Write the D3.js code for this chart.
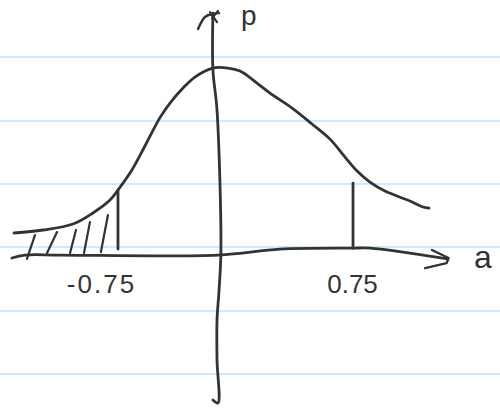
<!DOCTYPE html>
<html><head><meta charset="utf-8">
<script src="https://cdn.jsdelivr.net/npm/d3@7"></script>
<style>html,body{margin:0;padding:0;background:#fff}svg{display:block}</style></head>
<body><svg id="c" width="500" height="408"></svg>
<script>
const curveA=[-1.414,-1.229,-1.037,-0.91,-0.801,-0.75,-0.661,-0.578,-0.482,-0.418,-0.335,-0.259,-0.144,-0.048,0.029,0.137,0.22,0.361,0.488,0.603,0.699,0.776,0.858,0.954,1.114,1.197,1.235];
const curveP=[0.118,0.134,0.166,0.225,0.294,0.348,0.455,0.583,0.735,0.813,0.893,0.952,1,1,0.984,0.92,0.866,0.786,0.701,0.62,0.524,0.449,0.39,0.342,0.289,0.257,0.251];
const ruleP=[1.059,0.717,0.38,0.043,-0.299,-0.636];
const hatchA0=[-1.331,-1.203,-1.056,-0.967,-0.859];
const hatchP0=[-0.021,0.011,0.011,0.011,0.016];
const hatchA1=[-1.28,-1.139,-1.018,-0.929,-0.814];
const hatchP1=[0.107,0.123,0.134,0.176,0.214];
const dropA=[-0.75,0.75];
const dropP0=[0.032,0.037];
const dropP1=[0.348,0.385];
const xAxisA=[-1.427,-1.344,-1.12,-0.112,0.284,0.75,0.86,1.354];
const xAxisP=[-0.016,0,0,0,0.032,0.037,0.037,-0.021];
const xHeadA=[1.254,1.36,1.347,1.21];
const xHeadP=[0.027,-0.016,-0.043,-0.07];
const yAxisA=[-0.144,-0.144,-0.118,-0.093,-0.105,-0.118,-0.118,-0.112,-0.144];
const yAxisP=[1.294,0.989,0.775,0.027,-0.187,-0.348,-0.561,-0.791,-0.775];
const yHead1A=[-0.239,-0.195,-0.15,-0.105];
const yHead1P=[1.209,1.273,1.289,1.294];
const yHead2A=[-0.163,-0.118];
const yHead2P=[1.299,1.246];
const yHead3A=[-0.112,-0.15];
const yHead3P=[1.305,1.267];
const tickVals=[-0.75,0.75];
const tickText=["-0.75","0.75"];

const x=d3.scaleLinear().domain([-1.503,1.688]).range([0,500]);
const y=d3.scaleLinear().domain([1.364,-0.818]).range([0,408]);
const svg=d3.select("#c");
const ink="#333";
const font="'Liberation Sans',sans-serif";
const line=d3.line().x(d=>x(d[0])).y(d=>y(d[1])).curve(d3.curveCatmullRom.alpha(0.5));
const straight=d3.line().x(d=>x(d[0])).y(d=>y(d[1]));
const zip=(a,b)=>a.map((v,i)=>[v,b[i]]);

svg.selectAll("line.rule").data(ruleP).join("line").attr("class","rule")
  .attr("x1",0).attr("x2",500).attr("y1",d=>y(d)).attr("y2",d=>y(d))
  .attr("stroke","#cfeafc").attr("stroke-width",2);

function stroke(pts,w,gen){
  svg.append("path").attr("d",(gen||line)(pts)).attr("fill","none").attr("stroke",ink)
    .attr("stroke-width",w).attr("stroke-linecap","round").attr("stroke-linejoin","round");
}
stroke(zip(curveA,curveP),2.8);
stroke(zip(xAxisA,xAxisP),2.8);
stroke(zip(xHeadA,xHeadP),2.4,straight);
stroke(zip(yAxisA,yAxisP),2.8);
stroke(zip(yHead1A,yHead1P),2.4);
stroke(zip(yHead2A,yHead2P),2.2,straight);
stroke(zip(yHead3A,yHead3P),2.2,straight);
hatchA0.forEach((a,i)=>stroke([[a,hatchP0[i]],[hatchA1[i],hatchP1[i]]],2.2,straight));
dropA.forEach((a,i)=>stroke([[a,dropP0[i]],[a,dropP1[i]]],2.8,straight));

const ax=svg.append("g").attr("transform",`translate(0,${y(0)})`)
  .call(d3.axisBottom(x).tickValues(tickVals).tickSize(0).tickFormat((d,i)=>tickText[i]));
ax.select(".domain").remove();
ax.attr("font-family",null);
ax.selectAll("text").attr("font-family",font).attr("font-size",26)
  .attr("fill",ink).attr("y",0).attr("dy",38).attr("dx",(d,i)=>i===0?-17:-1)
  .attr("letter-spacing",(d,i)=>i===0?2:0);

svg.append("text").attr("x",x(0.035)).attr("y",y(1.23)).attr("font-family",font)
  .attr("font-size",28).attr("fill",ink).text("p");
svg.append("text").attr("x",x(1.522)).attr("y",y(-0.07)).attr("font-family",font)
  .attr("font-size",32).attr("fill",ink).text("a");
</script></body></html>
